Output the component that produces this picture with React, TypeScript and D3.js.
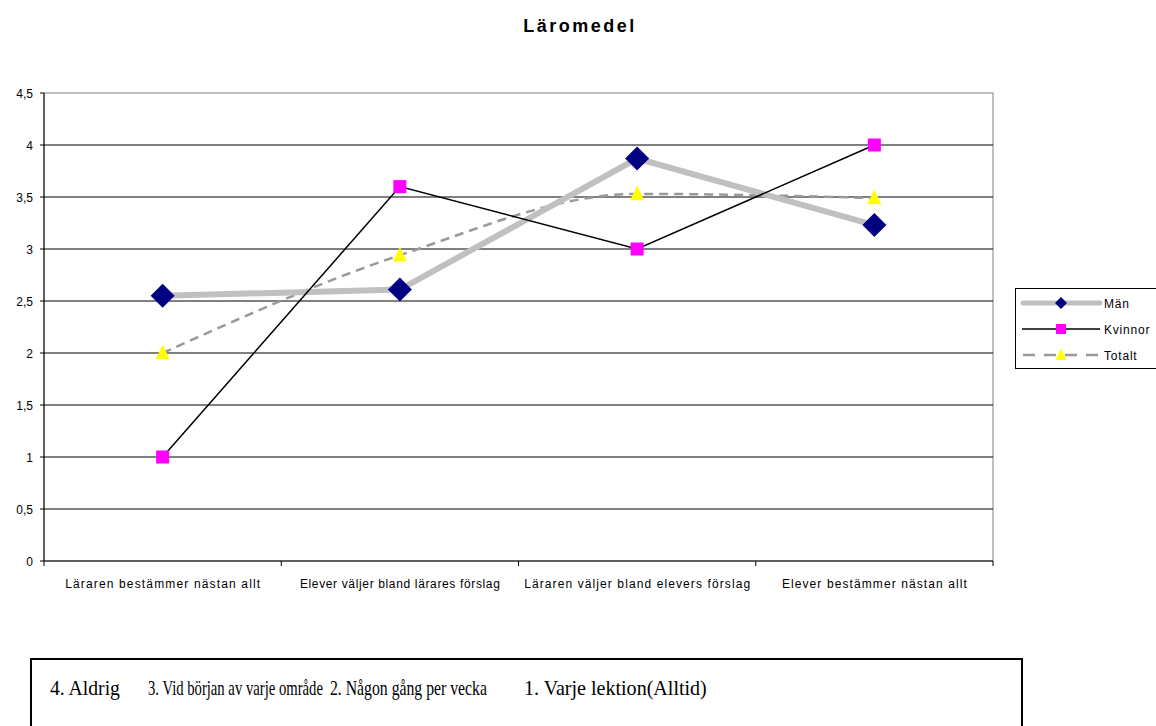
import React, { useLayoutEffect, useRef, useState } from "react";
import * as d3 from "d3";

const categories = [
  "Läraren bestämmer nästan allt",
  "Elever väljer bland lärares förslag",
  "Läraren väljer bland elevers förslag",
  "Elever bestämmer nästan allt",
];
const man = [2.55, 2.61, 3.87, 3.23];
const kvinnor = [1, 3.6, 3, 4];
const totalt = [2, 2.94, 3.53, 3.49];
const yTicks = [0, 0.5, 1, 1.5, 2, 2.5, 3, 3.5, 4, 4.5];
const seriesNames = ["Män", "Kvinnor", "Totalt"];
const noteItems = [
  "4. Aldrig",
  "3. Vid början av varje område",
  "2. Någon gång per vecka",
  "1. Varje lektion(Alltid)",
];

export default function App() {
  const W = 1156, H = 726;
  const left = 44, right = 993, top = 93, bottom = 561;
  const x = d3.scaleBand<string>().domain(categories).range([left, right]);
  const y = d3.scaleLinear().domain([0, 4.5]).range([bottom, top]);
  const cx = (i: number) => (x(categories[i]) as number) + x.bandwidth() / 2;

  const straight = d3.line<number>().x((_, i) => cx(i)).y((d) => y(d));
  const smooth = d3
    .line<number>()
    .x((_, i) => cx(i))
    .y((d) => y(d))
    .curve(d3.curveMonotoneX);

  const diamond = (px: number, py: number, r: number) =>
    `M${px},${py - r}L${px + r},${py}L${px},${py + r}L${px - r},${py}Z`;
  const tri = (px: number, py: number, s: number) =>
    `M${px},${py - s * 0.6}L${px + s / 2},${py + s * 0.45}L${px - s / 2},${py + s * 0.45}Z`;

  const ff = "Arial, 'Liberation Sans', sans-serif";
  const catW = [195, 200, 226, 185];
  const noteX = [50, 148, 330, 524];
  const noteW = [70, 175, 157, 183];

  const noteRefs = useRef<(SVGTextElement | null)[]>([]);
  const [scales, setScales] = useState<number[]>([1, 1, 1, 1]);
  useLayoutEffect(() => {
    const s = noteRefs.current.map((el, i) => {
      if (!el) return 1;
      const w = el.getComputedTextLength();
      return w > 0 ? noteW[i] / w : 1;
    });
    setScales(s);
  }, []);

  return (
    <svg width={W} height={H} style={{ position: "absolute", left: 0, top: 0 }}>
      <rect x={0} y={0} width={W} height={H} fill="#fff" />
      <text x={580} y={32} textAnchor="middle" fontFamily={ff} fontWeight="bold" fontSize={18} letterSpacing={2.5}>
        Läromedel
      </text>
      {/* plot area border */}
      <rect x={left} y={top} width={right - left} height={bottom - top} fill="#fff" stroke="#808080" strokeWidth={1} />
      {yTicks.filter((t) => t > 0 && t < 4.5).map((t) => (
        <line key={t} x1={left} x2={right} y1={y(t)} y2={y(t)} stroke="#000" strokeWidth={1} />
      ))}
      {/* y axis */}
      <line x1={left} x2={left} y1={top} y2={bottom} stroke="#000" strokeWidth={1} />
      {yTicks.map((t) => (
        <g key={"yt" + t}>
          <line x1={left - 4} x2={left} y1={y(t)} y2={y(t)} stroke="#000" />
          <text x={33} y={y(t) + 4.5} textAnchor="end" fontFamily={ff} fontSize={12}>
            {String(t).replace(".", ",")}
          </text>
        </g>
      ))}
      {/* x axis */}
      <line x1={left} x2={right} y1={bottom} y2={bottom} stroke="#000" strokeWidth={1} />
      {[0, 1, 2, 3, 4].map((i) => {
        const px = left + i * x.bandwidth();
        return <line key={"xt" + i} x1={px} x2={px} y1={bottom} y2={bottom + 5} stroke="#000" />;
      })}
      {categories.map((c, i) => (
        <text
          key={c}
          x={cx(i) - catW[i] / 2}
          y={588}
          fontFamily={ff}
          fontSize={12}
          textLength={catW[i]}
          lengthAdjust="spacing"
        >
          {c}
        </text>
      ))}
      {/* Totalt */}
      <path d={smooth(totalt) as string} fill="none" stroke="#999999" strokeWidth={2.5} strokeDasharray="9,6" />
      {/* Män */}
      <path d={straight(man) as string} fill="none" stroke="#C0C0C0" strokeWidth={6} />
      {/* Kvinnor */}
      <path d={straight(kvinnor) as string} fill="none" stroke="#000" strokeWidth={1.5} />
      {man.map((v, i) => (
        <path key={"m" + i} d={diamond(cx(i), y(v), 12)} fill="#000080" />
      ))}
      {kvinnor.map((v, i) => (
        <rect key={"k" + i} x={cx(i) - 6.5} y={y(v) - 6.5} width={13} height={13} fill="#FF00FF" />
      ))}
      {totalt.map((v, i) => (
        <path key={"t" + i} d={tri(cx(i), y(v), 14)} fill="#FFFF00" />
      ))}
      {/* legend */}
      <rect x={1015.5} y={288.5} width={145} height={80} fill="#fff" stroke="#000" strokeWidth={1} />
      {seriesNames.map((n, i) => {
        const ly = 303 + i * 26;
        return (
          <g key={n}>
            {i === 0 && (
              <>
                <line x1={1023} x2={1100} y1={ly} y2={ly} stroke="#C0C0C0" strokeWidth={5} strokeLinecap="round" />
                <path d={diamond(1061, ly, 6)} fill="#000080" />
              </>
            )}
            {i === 1 && (
              <>
                <line x1={1022} x2={1100} y1={ly} y2={ly} stroke="#000" strokeWidth={1.5} />
                <rect x={1056} y={ly - 5} width={10} height={10} fill="#FF00FF" />
              </>
            )}
            {i === 2 && (
              <>
                <line x1={1023} x2={1100} y1={ly} y2={ly} stroke="#999999" strokeWidth={2.5} strokeDasharray="12,9" />
                <path d={tri(1061, ly, 11)} fill="#FFFF00" />
              </>
            )}
            <text x={1104} y={ly + 4.5} fontFamily={ff} fontSize={12} letterSpacing={0.8}>
              {n}
            </text>
          </g>
        );
      })}
      {/* note box */}
      <rect x={31} y={659} width={991} height={80} fill="#fff" stroke="#000" strokeWidth={2} />
      {noteItems.map((t, i) => (
        <g key={t} transform={`translate(${noteX[i]},695) scale(${scales[i]},1)`}>
          <text
            ref={(el) => {
              noteRefs.current[i] = el;
            }}
            x={0}
            y={0}
            fontFamily="'Liberation Serif', 'Times New Roman', serif"
            fontSize={21}
          >
            {t}
          </text>
        </g>
      ))}
    </svg>
  );
}
